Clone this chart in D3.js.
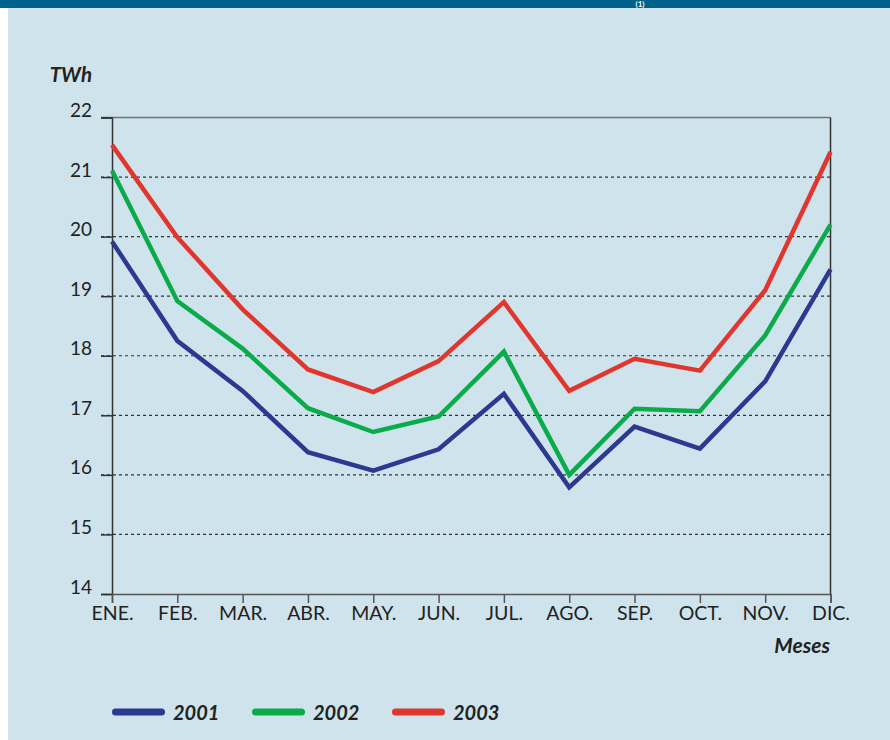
<!DOCTYPE html>
<html><head><meta charset="utf-8">
<script src="https://cdn.jsdelivr.net/npm/d3@7"></script>
<style>
html,body{margin:0;padding:0;background:#fff;}
svg{display:block;font-family:Lato,"Open Sans",sans-serif;}
</style></head>
<body>
<svg id="chart" width="890" height="740"></svg>
<script>
const months = ["ENE.","FEB.","MAR.","ABR.","MAY.","JUN.","JUL.","AGO.","SEP.","OCT.","NOV.","DIC."];
const years = ["2001","2002","2003"];
const values2001 = [19.92,18.25,17.41,16.38,16.07,16.43,17.36,15.79,16.81,16.44,17.57,19.45];
const values2002 = [21.11,18.92,18.12,17.12,16.72,16.98,18.07,16.00,17.11,17.07,18.34,20.20];
const values2003 = [21.54,19.99,18.78,17.77,17.39,17.91,18.90,17.41,17.95,17.75,19.10,21.42];
const yTicks = [14,15,16,17,18,19,20,21,22];
const colors = ["#2b3990","#0bab4b","#e0362e"];

const series = [values2001, values2002, values2003];
const svg = d3.select("#chart");

// background
svg.append("rect").attr("x",0).attr("y",0).attr("width",890).attr("height",740).attr("fill","#ffffff");
svg.append("rect").attr("x",8).attr("y",0).attr("width",882).attr("height",740).attr("fill","#cfe3ec");
svg.append("rect").attr("x",0).attr("y",0).attr("width",890).attr("height",8).attr("fill","#00628a");
svg.append("text").attr("x",640).attr("y",7).attr("fill","#fff").attr("font-weight","bold")
  .attr("font-size",8).attr("text-anchor","middle").text("(1)");

const x = d3.scalePoint().domain(months).range([112, 830.5]);
const y = d3.scaleLinear().domain([14,22]).range([594, 117.5]);

// gridlines (dashed)
svg.append("g").selectAll("line").data(yTicks.filter(t => t>14 && t<22)).join("line")
  .attr("x1",101).attr("x2",830.5).attr("y1",d=>y(d)).attr("y2",d=>y(d))
  .attr("stroke","#333").attr("stroke-width",1.2).attr("stroke-dasharray","3,3");
// top line at 22
svg.append("line").attr("x1",101).attr("x2",830.5).attr("y1",y(22)).attr("y2",y(22))
  .attr("stroke","#6e7478").attr("stroke-width",1.5);
// right border
svg.append("line").attr("x1",830.5).attr("x2",830.5).attr("y1",y(22)).attr("y2",y(14))
  .attr("stroke","#333").attr("stroke-width",1.5);

// y axis
const yAxis = d3.axisLeft(y).tickValues(yTicks).tickSize(11).tickPadding(9).tickFormat(d3.format("d"));
const gy = svg.append("g").attr("transform","translate(112,0)").call(yAxis);
gy.select(".domain").attr("stroke","#333").attr("stroke-width",1.5);
gy.selectAll(".tick line").attr("stroke","#333").attr("stroke-width",1.5);
gy.selectAll(".tick text").attr("font-size",19).attr("fill","#222").attr("dy","-0.05em")
  .attr("font-family","Lato,sans-serif");

// x axis
const xAxis = d3.axisBottom(x).tickSize(9).tickPadding(3);
const gx = svg.append("g").attr("transform","translate(0,594)").call(xAxis);
gx.select(".domain").attr("stroke","#555").attr("stroke-width",1.5);
gx.selectAll(".tick line").attr("stroke","#555").attr("stroke-width",1.5);
gx.selectAll(".tick text").attr("font-size",19.5).attr("fill","#222").attr("font-family","Lato,sans-serif");

// axis titles
svg.append("text").attr("x",92).attr("y",82).attr("text-anchor","end")
  .attr("font-size",20.5).attr("font-weight","bold").attr("font-style","italic").attr("fill","#222").text("TWh");
svg.append("text").attr("x",830).attr("y",653).attr("text-anchor","end")
  .attr("font-size",21).attr("font-weight","bold").attr("font-style","italic").attr("fill","#222").text("Meses");

// lines
const line = d3.line().x((d,i)=>x(months[i])).y(d=>y(d));
svg.append("g").selectAll("path").data(series).join("path")
  .attr("d", d=>line(d)).attr("fill","none")
  .attr("stroke",(d,i)=>colors[i]).attr("stroke-width",4.5).attr("stroke-linejoin","miter");

// legend
const legX = [112, 252, 392];
const leg = svg.append("g").selectAll("g").data(years).join("g")
  .attr("transform",(d,i)=>`translate(${legX[i]},712)`);
leg.append("line").attr("x1",3.5).attr("x2",49.5).attr("y1",0).attr("y2",0)
  .attr("stroke",(d,i)=>colors[i]).attr("stroke-width",7).attr("stroke-linecap","round");
leg.append("text").attr("x",61).attr("y",8).attr("font-size",20).attr("font-weight","bold")
  .attr("font-style","italic").attr("fill","#222").text(d=>d);
</script>
</body></html>
